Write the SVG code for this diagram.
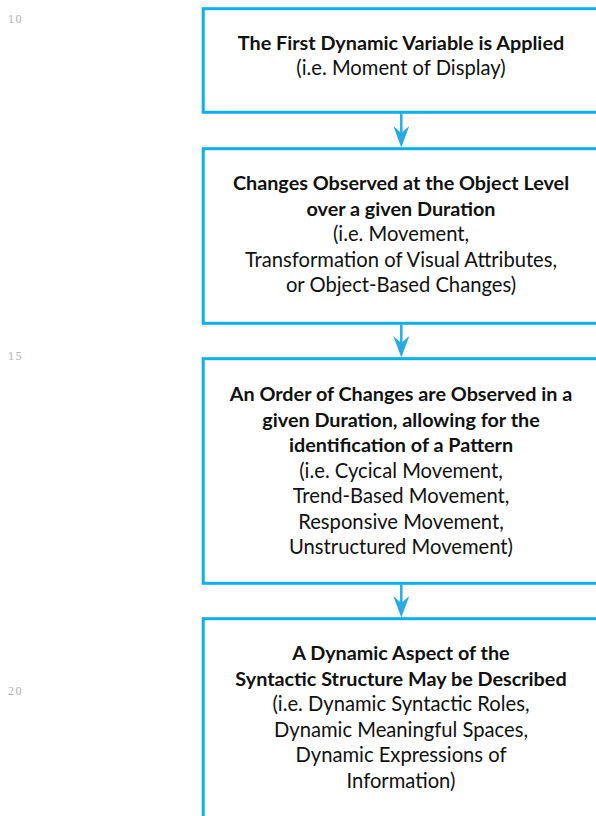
<svg xmlns="http://www.w3.org/2000/svg" width="596" height="816" viewBox="0 0 596 816">
<style>
.box{fill:#ffffff;stroke:#0cb0ec;stroke-width:3}
.ln{font-family:"Liberation Serif",serif;font-size:12px;letter-spacing:1.5px;fill:#b0b0b0}
text.t{font-family:Lato,"Liberation Sans",sans-serif;font-size:20.2px;fill:#111111;text-anchor:middle}
text.b{font-weight:bold;font-size:19.8px}
.conn line{stroke:#29abe2;stroke-width:2.5}
.conn path{fill:#29abe2}
</style>
<rect width="596" height="816" fill="#ffffff"/>
<g id="line-numbers">
<text class="ln" x="8" y="23">10</text>
<text class="ln" x="8" y="360">15</text>
<text class="ln" x="8" y="695">20</text>
</g>
<g id="node1">
<rect class="box" x="203.2" y="8.7" width="396" height="103.6"/>
<text class="t b" x="401" y="50">The First Dynamic Variable is Applied</text>
<text class="t" x="401" y="75">(i.e. Moment of Display)</text>
</g>
<g id="node2">
<rect class="box" x="203.2" y="148.7" width="396" height="174.6"/>
<text class="t b" x="401" y="190">Changes Observed at the Object Level</text>
<text class="t b" x="401" y="215.5">over a given Duration</text>
<text class="t" x="401" y="241">(i.e. Movement,</text>
<text class="t" x="401" y="266.5">Transformation of Visual Attributes,</text>
<text class="t" x="401" y="292">or Object-Based Changes)</text>
</g>
<g id="node3">
<rect class="box" x="203.2" y="358.7" width="396" height="224.6"/>
<text class="t b" x="401" y="401">An Order of Changes are Observed in a</text>
<text class="t b" x="401" y="426.5">given Duration, allowing for the</text>
<text class="t b" x="401" y="452">identification of a Pattern</text>
<text class="t" x="401" y="477.5">(i.e. Cycical Movement,</text>
<text class="t" x="401" y="503">Trend-Based Movement,</text>
<text class="t" x="401" y="528.5">Responsive Movement,</text>
<text class="t" x="401" y="554">Unstructured Movement)</text>
</g>
<g id="node4">
<rect class="box" x="203.2" y="618.7" width="396" height="230"/>
<text class="t b" x="401" y="660">A Dynamic Aspect of the</text>
<text class="t b" x="401" y="685.5">Syntactic Structure May be Described</text>
<text class="t" x="401" y="711">(i.e. Dynamic Syntactic Roles,</text>
<text class="t" x="401" y="736.5">Dynamic Meaningful Spaces,</text>
<text class="t" x="401" y="762">Dynamic Expressions of</text>
<text class="t" x="401" y="787.5">Information)</text>
</g>
<g id="connectors" class="conn">
<line x1="401.3" y1="113.5" x2="401.3" y2="134"/>
<path d="M393.3,126 L401.3,147.5 L409.3,126 L401.3,133 Z"/>
<line x1="401.3" y1="324.5" x2="401.3" y2="344"/>
<path d="M393.3,336 L401.3,357.5 L409.3,336 L401.3,343 Z"/>
<line x1="401.3" y1="584.5" x2="401.3" y2="604"/>
<path d="M393.3,596 L401.3,617.5 L409.3,596 L401.3,603 Z"/>
</g>
</svg>
